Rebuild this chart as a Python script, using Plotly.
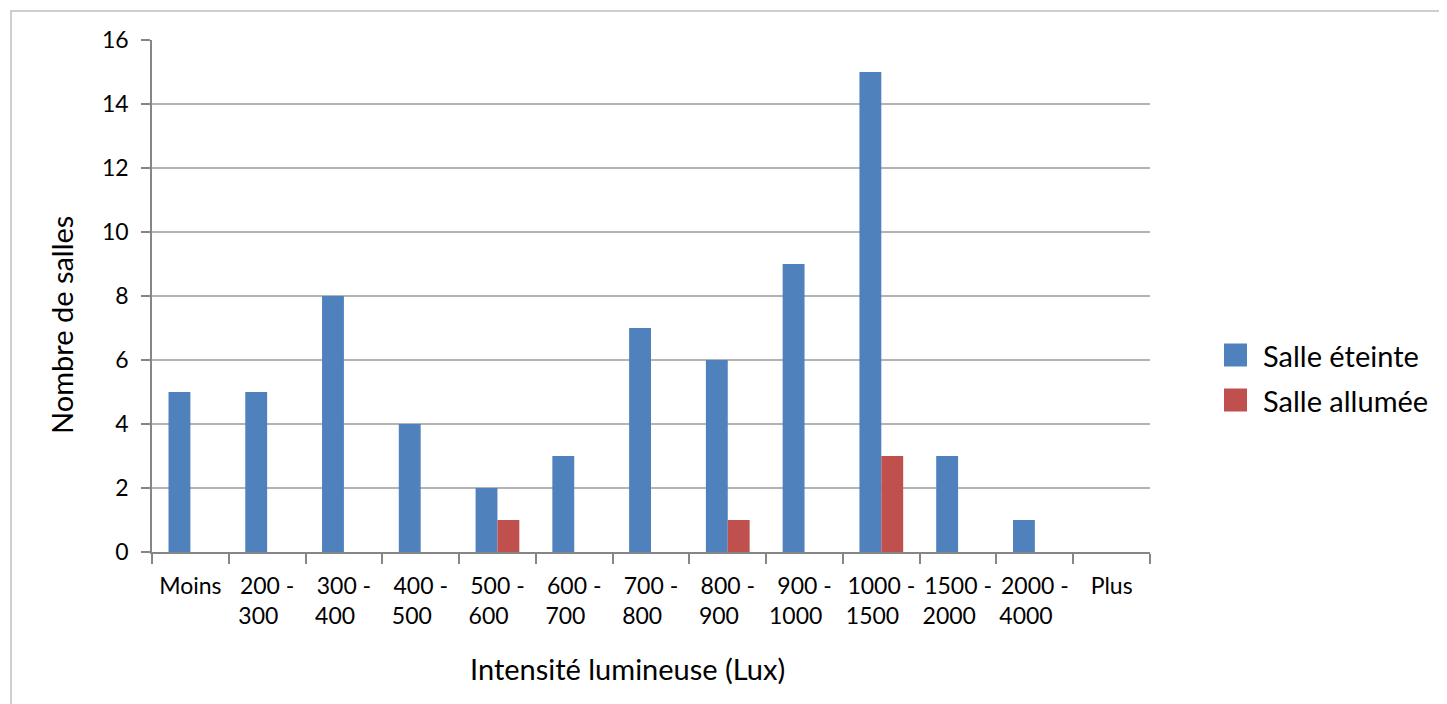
import plotly.graph_objects as go

categories = ["Moins", "200 - 300", "300 - 400", "400 - 500", "500 - 600",
              "600 - 700", "700 - 800", "800 - 900", "900 - 1000",
              "1000 - 1500", "1500 - 2000", "2000 - 4000", "Plus"]
series_names = ["Salle éteinte", "Salle allumée"]
salle_eteinte = [5, 5, 8, 4, 2, 3, 7, 6, 9, 15, 3, 1, 0]
salle_allumee = [0, 0, 0, 0, 1, 0, 0, 1, 0, 3, 0, 0, 0]
y_ticks = [0, 2, 4, 6, 8, 10, 12, 14, 16]
colors = ["#4f81bd", "#c0504d"]
x_title = "Intensité lumineuse (Lux)"
y_title = "Nombre de salles"

FONT = "Lato"
OFF = 8  # page body margin
W, H = 1447 - OFF, 704 - OFF
L, R, T, B = 152 - OFF, 1150 - OFF, 40 - OFF, 552 - OFF


def wrap_label(c):
    # two-line, left-aligned look: "a -" over "b"
    if " - " in c:
        a, b = c.split(" - ")
        return a + " -<br>" + b + "\u00a0\u00a0\u00a0"
    return c


tick_text = [wrap_label(c) for c in categories]

fig = go.Figure()
for name, vals, col in zip(series_names, [salle_eteinte, salle_allumee], colors):
    fig.add_trace(go.Bar(x=categories, y=vals, name=name, showlegend=False,
                         marker=dict(color=col, line=dict(width=0))))

pw, ph = R - L, B - T
def px(x):
    return (x - OFF - L) / pw
def py(y):
    return (B - (y - OFF)) / ph

# outer chart frame (top and left edges visible)
fig.add_shape(type="rect", xref="paper", yref="paper",
              x0=px(11), x1=px(1470), y0=py(740), y1=py(11),
              line=dict(color="#bfbfbf", width=1.5), layer="below")

# custom legend (large square swatches)
legend_rows = [355, 400]
for name, col, yc in zip(series_names, colors, legend_rows):
    fig.add_shape(type="rect", xref="paper", yref="paper",
                  x0=px(1224), x1=px(1247), y0=py(yc + 11.5), y1=py(yc - 11.5),
                  fillcolor=col, line=dict(width=0))
    fig.add_annotation(text=name, xref="paper", yref="paper", x=px(1261), y=py(yc),
                       xanchor="left", yanchor="middle", showarrow=False,
                       font=dict(family=FONT, size=29, color="black"))

# axis titles
fig.add_annotation(text=x_title, xref="paper", yref="paper", x=px(627), y=py(668),
                   xanchor="center", yanchor="middle", showarrow=False,
                   font=dict(family=FONT, size=29, color="black"))
fig.add_annotation(text=y_title, xref="paper", yref="paper", x=px(61), y=py(325),
                   xanchor="center", yanchor="middle", showarrow=False, textangle=-90,
                   font=dict(family=FONT, size=29, color="black"))

fig.update_layout(
    width=W, height=H,
    margin=dict(l=L, r=W - R, t=T, b=H - B, pad=0),
    paper_bgcolor="white", plot_bgcolor="white",
    barmode="group", bargap=0.43, bargroupgap=0,
    font=dict(family=FONT, size=23, color="black"),
    showlegend=False,
    xaxis=dict(
        type="category", tickson="boundaries", ticks="outside", ticklen=10,
        tickcolor="#868686", tickwidth=1.5, showline=True, linecolor="#868686",
        linewidth=1.5, showgrid=False, tickfont=dict(family=FONT, size=23),
        tickmode="array", tickvals=categories, ticktext=tick_text,
        tickangle=0, ticklabelstandoff=13,
        range=[-0.5, 12.5],
    ),
    yaxis=dict(
        range=[0, 16], tickvals=y_ticks, ticks="outside", ticklen=9,
        tickcolor="#868686", tickwidth=1.5, showline=True, linecolor="#868686",
        linewidth=1.5, showgrid=True, gridcolor="#b3b3b3", gridwidth=1.5,
        zeroline=False, tickfont=dict(family=FONT, size=23),
        ticklabelstandoff=8,
    ),
)

fig.write_html("out.html")
